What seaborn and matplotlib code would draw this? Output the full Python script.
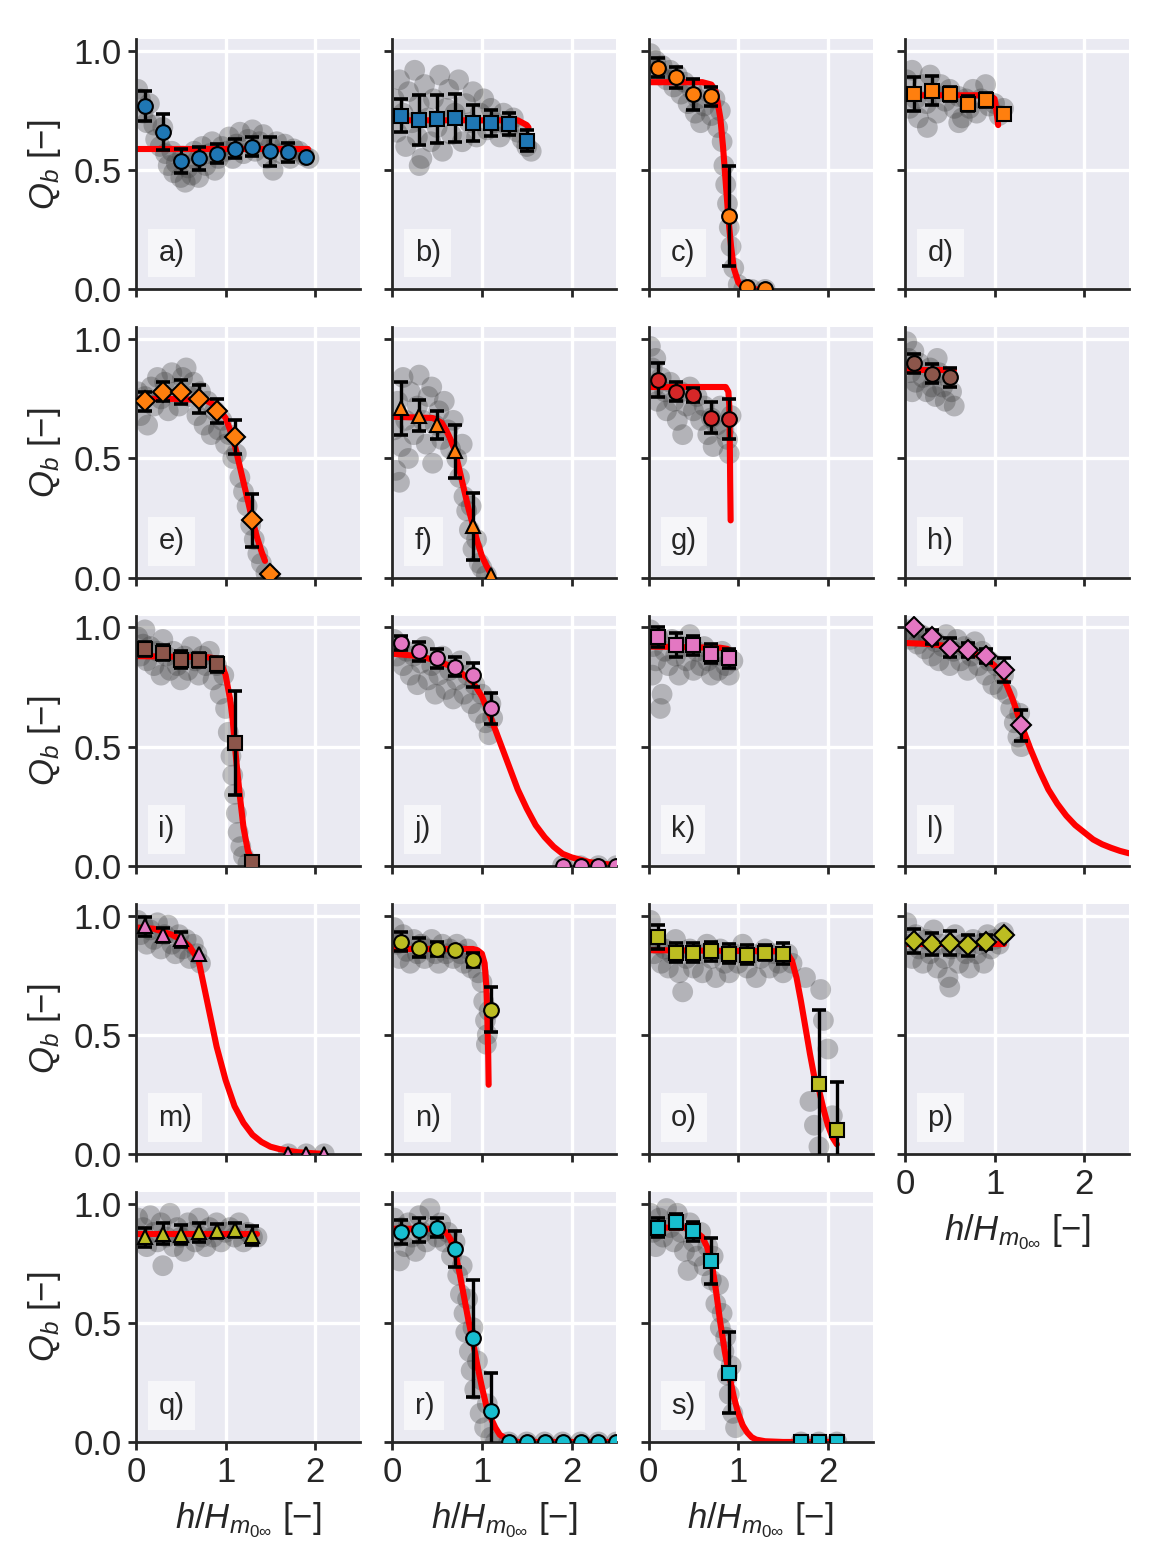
import matplotlib

matplotlib.use("Agg")
import matplotlib.pyplot as plt
import seaborn as sns

sns.set_theme(style="darkgrid")
plt.rcParams["font.family"] = ["Liberation Sans", "DejaVu Sans"]
plt.rcParams["mathtext.fontset"] = "custom"
plt.rcParams["mathtext.rm"] = "Liberation Sans"
plt.rcParams["mathtext.it"] = "Liberation Sans:italic"

PANELS = list("abcdefghijklmnopqrs")

COLOURS = {
    "a": "#1f77b4", "b": "#1f77b4", "c": "#ff7f0e", "d": "#ff7f0e",
    "e": "#ff7f0e", "f": "#ff7f0e", "g": "#d62728", "h": "#8c564b",
    "i": "#8c564b", "j": "#e377c2", "k": "#e377c2", "l": "#e377c2",
    "m": "#e377c2", "n": "#bcbd22", "o": "#bcbd22", "p": "#bcbd22",
    "q": "#bcbd22", "r": "#17becf", "s": "#17becf",
}
MARKERS = {
    "a": "o", "b": "s", "c": "o", "d": "s", "e": "D", "f": "^", "g": "o",
    "h": "o", "i": "s", "j": "o", "k": "s", "l": "D", "m": "^", "n": "o",
    "o": "s", "p": "D", "q": "^", "r": "o", "s": "s",
}

# binned means with standard deviation
BIN_X = {
    "a": [0.1, 0.3, 0.5, 0.7, 0.9, 1.1, 1.3, 1.5, 1.7, 1.9],
    "b": [0.1, 0.3, 0.5, 0.7, 0.9, 1.1, 1.3, 1.5],
    "c": [0.1, 0.3, 0.5, 0.7, 0.9, 1.1, 1.3],
    "d": [0.1, 0.3, 0.5, 0.7, 0.9, 1.1],
    "e": [0.1, 0.3, 0.5, 0.7, 0.9, 1.1, 1.3, 1.5],
    "f": [0.1, 0.3, 0.5, 0.7, 0.9, 1.1],
    "g": [0.1, 0.3, 0.5, 0.7, 0.9],
    "h": [0.1, 0.3, 0.5],
    "i": [0.1, 0.3, 0.5, 0.7, 0.9, 1.1, 1.3],
    "j": [0.1, 0.3, 0.5, 0.7, 0.9, 1.1, 1.9, 2.1, 2.3, 2.5],
    "k": [0.1, 0.3, 0.5, 0.7, 0.9],
    "l": [0.1, 0.3, 0.5, 0.7, 0.9, 1.1, 1.3],
    "m": [0.1, 0.3, 0.5, 0.7, 1.7, 1.9, 2.1],
    "n": [0.1, 0.3, 0.5, 0.7, 0.9, 1.1],
    "o": [0.1, 0.3, 0.5, 0.7, 0.9, 1.1, 1.3, 1.5, 1.9, 2.1],
    "p": [0.1, 0.3, 0.5, 0.7, 0.9, 1.1],
    "q": [0.1, 0.3, 0.5, 0.7, 0.9, 1.1, 1.3],
    "r": [0.1, 0.3, 0.5, 0.7, 0.9, 1.1, 1.3, 1.5, 1.7, 1.9, 2.1, 2.3, 2.5],
    "s": [0.1, 0.3, 0.5, 0.7, 0.9, 1.7, 1.9, 2.1],
}
BIN_Y = {
    "a": [0.77, 0.66, 0.54, 0.55, 0.57, 0.59, 0.60, 0.58, 0.575, 0.555],
    "b": [0.73, 0.71, 0.715, 0.72, 0.70, 0.70, 0.695, 0.625],
    "c": [0.93, 0.89, 0.82, 0.81, 0.31, 0.01, 0.0],
    "d": [0.82, 0.835, 0.82, 0.78, 0.795, 0.735],
    "e": [0.74, 0.78, 0.78, 0.75, 0.70, 0.59, 0.24, 0.015],
    "f": [0.71, 0.68, 0.64, 0.53, 0.215, 0.01],
    "g": [0.83, 0.78, 0.765, 0.67, 0.665],
    "h": [0.90, 0.855, 0.84],
    "i": [0.91, 0.895, 0.865, 0.865, 0.845, 0.515, 0.015],
    "j": [0.935, 0.90, 0.87, 0.835, 0.80, 0.66, 0.0, 0.0, 0.0, 0.0],
    "k": [0.96, 0.925, 0.925, 0.89, 0.87],
    "l": [1.0, 0.96, 0.915, 0.905, 0.88, 0.82, 0.59],
    "m": [0.955, 0.92, 0.90, 0.84, 0.0, 0.0, 0.0],
    "n": [0.89, 0.865, 0.86, 0.855, 0.815, 0.605],
    "o": [0.91, 0.845, 0.845, 0.85, 0.84, 0.835, 0.845, 0.84, 0.295, 0.10],
    "p": [0.895, 0.88, 0.885, 0.875, 0.89, 0.92],
    "q": [0.86, 0.875, 0.87, 0.88, 0.885, 0.89, 0.865],
    "r": [0.88, 0.89, 0.90, 0.81, 0.435, 0.13, 0.0, 0.0, 0.0, 0.0, 0.0, 0.0, 0.0],
    "s": [0.90, 0.925, 0.885, 0.76, 0.29, 0.0, 0.0, 0.0],
}
BIN_ERR = {
    "a": [0.065, 0.075, 0.05, 0.05, 0.04, 0.04, 0.04, 0.06, 0.04, 0.0],
    "b": [0.07, 0.105, 0.10, 0.10, 0.075, 0.055, 0.045, 0.045],
    "c": [0.04, 0.045, 0.065, 0.04, 0.21, 0.0, 0.0],
    "d": [0.07, 0.06, 0.03, 0.03, 0.03, 0.0],
    "e": [0.04, 0.04, 0.05, 0.06, 0.05, 0.07, 0.11, 0.0],
    "f": [0.11, 0.065, 0.06, 0.11, 0.14, 0.0],
    "g": [0.07, 0.04, 0.03, 0.065, 0.085],
    "h": [0.04, 0.04, 0.04],
    "i": [0.03, 0.03, 0.035, 0.03, 0.03, 0.22, 0.0],
    "j": [0.03, 0.04, 0.04, 0.04, 0.05, 0.065, 0.0, 0.0, 0.0, 0.0],
    "k": [0.04, 0.05, 0.04, 0.04, 0.04],
    "l": [0.0, 0.03, 0.04, 0.03, 0.03, 0.05, 0.065],
    "m": [0.04, 0.03, 0.03, 0.0, 0.0, 0.0, 0.0],
    "n": [0.04, 0.04, 0.03, 0.0, 0.03, 0.095],
    "o": [0.05, 0.04, 0.04, 0.04, 0.04, 0.04, 0.03, 0.045, 0.31, 0.2],
    "p": [0.05, 0.045, 0.05, 0.045, 0.03, 0.0],
    "q": [0.04, 0.045, 0.04, 0.04, 0.03, 0.03, 0.04],
    "r": [0.05, 0.05, 0.04, 0.075, 0.245, 0.16, 0.0, 0.0, 0.0, 0.0, 0.0, 0.0, 0.0],
    "s": [0.04, 0.03, 0.04, 0.095, 0.17, 0.0, 0.0, 0.0],
}

# fitted breaking curves
FIT_X = {
    "a": [0.0, 1.92],
    "b": [0.0, 1.0, 1.4, 1.45, 1.5, 1.52],
    "c": [0.0, 0.6, 0.7, 0.75, 0.8, 0.83, 0.86, 0.89, 0.92, 0.95, 1.0, 1.05, 1.1, 1.3],
    "d": [0.0, 0.8, 0.95, 1.0, 1.02, 1.04],
    "e": [0.0, 0.5, 0.7, 0.8, 0.9, 1.0, 1.05, 1.1, 1.15, 1.2, 1.25, 1.3, 1.35, 1.4, 1.44],
    "f": [0.0, 0.45, 0.55, 0.6, 0.65, 0.7, 0.75, 0.8, 0.85, 0.9, 0.95, 1.0, 1.05, 1.1],
    "g": [0.0, 0.8, 0.86, 0.89, 0.9, 0.905, 0.91, 0.915],
    "h": [0.0, 0.55],
    "i": [0.0, 0.8, 0.9, 0.95, 1.0, 1.05, 1.08, 1.1, 1.13, 1.16, 1.2, 1.25, 1.3],
    "j": [0.0, 0.3, 0.5, 0.7, 0.9, 1.0, 1.1, 1.2, 1.3, 1.4, 1.5, 1.6, 1.7, 1.8, 1.9,
          2.0, 2.2, 2.4, 2.5],
    "k": [0.0, 0.8, 0.88, 0.92, 0.95],
    "l": [0.0, 0.3, 0.5, 0.7, 0.9, 1.0, 1.1, 1.2, 1.3, 1.4, 1.5, 1.6, 1.7, 1.8, 1.9,
          2.0, 2.1, 2.2, 2.3, 2.4, 2.5],
    "m": [0.0, 0.2, 0.4, 0.5, 0.6, 0.7, 0.8, 0.9, 1.0, 1.1, 1.2, 1.3, 1.4, 1.5, 1.6,
          1.8, 2.0, 2.1],
    "n": [0.0, 0.9, 0.95, 1.0, 1.03, 1.05, 1.06, 1.07, 1.075],
    "o": [0.0, 1.5, 1.55, 1.6, 1.65, 1.7, 1.75, 1.8, 1.85, 1.9, 1.95, 2.0, 2.05, 2.1],
    "p": [0.0, 1.1],
    "q": [0.0, 1.35],
    "r": [0.0, 0.5, 0.6, 0.65, 0.7, 0.75, 0.8, 0.85, 0.9, 0.95, 1.0, 1.05, 1.1, 1.15,
          1.2, 1.3, 1.4, 2.5],
    "s": [0.0, 0.4, 0.5, 0.6, 0.65, 0.7, 0.75, 0.8, 0.85, 0.9, 0.95, 1.0, 1.05, 1.1,
          1.15, 1.2, 1.3, 1.5, 2.15],
}
FIT_Y = {
    "a": [0.59, 0.59],
    "b": [0.71, 0.71, 0.71, 0.70, 0.69, 0.68],
    "c": [0.87, 0.87, 0.86, 0.83, 0.72, 0.60, 0.45, 0.30, 0.18, 0.09, 0.03, 0.01, 0.0, 0.0],
    "d": [0.815, 0.815, 0.815, 0.80, 0.75, 0.69],
    "e": [0.75, 0.75, 0.745, 0.74, 0.72, 0.67, 0.62, 0.56, 0.48, 0.40, 0.32, 0.24, 0.17,
          0.11, 0.07],
    "f": [0.675, 0.67, 0.65, 0.62, 0.58, 0.53, 0.45, 0.37, 0.29, 0.22, 0.15, 0.09, 0.05,
          0.015],
    "g": [0.80, 0.80, 0.80, 0.78, 0.72, 0.60, 0.40, 0.24],
    "h": [0.87, 0.87],
    "i": [0.88, 0.875, 0.87, 0.85, 0.80, 0.70, 0.61, 0.52, 0.40, 0.29, 0.16, 0.06, 0.02],
    "j": [0.89, 0.88, 0.86, 0.83, 0.77, 0.71, 0.62, 0.52, 0.42, 0.32, 0.24, 0.17, 0.12,
          0.08, 0.05, 0.035, 0.015, 0.006, 0.003],
    "k": [0.92, 0.915, 0.91, 0.90, 0.86],
    "l": [0.935, 0.93, 0.92, 0.90, 0.87, 0.84, 0.79, 0.70, 0.59, 0.49, 0.40, 0.32, 0.26,
          0.21, 0.17, 0.14, 0.11, 0.09, 0.075, 0.062, 0.052],
    "m": [0.95, 0.945, 0.92, 0.90, 0.87, 0.81, 0.63, 0.45, 0.31, 0.20, 0.13, 0.08, 0.05,
          0.03, 0.02, 0.007, 0.002, 0.0],
    "n": [0.86, 0.86, 0.855, 0.84, 0.80, 0.70, 0.58, 0.42, 0.29],
    "o": [0.855, 0.85, 0.84, 0.81, 0.74, 0.64, 0.53, 0.42, 0.32, 0.27, 0.19, 0.12, 0.07,
          0.04],
    "p": [0.88, 0.88],
    "q": [0.875, 0.875],
    "r": [0.895, 0.895, 0.88, 0.85, 0.80, 0.71, 0.61, 0.51, 0.42, 0.32, 0.23, 0.15, 0.10,
          0.06, 0.03, 0.008, 0.0, 0.0],
    "s": [0.90, 0.90, 0.89, 0.86, 0.82, 0.76, 0.64, 0.50, 0.38, 0.28, 0.19, 0.12, 0.07,
          0.04, 0.02, 0.01, 0.003, 0.0, 0.0],
}

# individual observations (grey cloud), (h/Hm0, Qb)
CLOUD = {
    "a": [(0.02, 0.84), (0.05, 0.80), (0.08, 0.74), (0.12, 0.70), (0.15, 0.78), (0.2, 0.69),
          (0.22, 0.63), (0.27, 0.60), (0.3, 0.68), (0.33, 0.57), (0.36, 0.52), (0.4, 0.58),
          (0.42, 0.49), (0.45, 0.53), (0.5, 0.47), (0.52, 0.56), (0.55, 0.45), (0.58, 0.51),
          (0.62, 0.48), (0.65, 0.58), (0.68, 0.54), (0.7, 0.47), (0.74, 0.60), (0.78, 0.52),
          (0.82, 0.57), (0.85, 0.62), (0.88, 0.50), (0.92, 0.55), (0.96, 0.60), (1.0, 0.58),
          (1.04, 0.64), (1.08, 0.55), (1.12, 0.61), (1.16, 0.66), (1.2, 0.57), (1.25, 0.63),
          (1.3, 0.67), (1.33, 0.58), (1.38, 0.62), (1.42, 0.65), (1.46, 0.55), (1.5, 0.60),
          (1.53, 0.50), (1.57, 0.62), (1.62, 0.57), (1.66, 0.61), (1.72, 0.55), (1.76, 0.59),
          (1.82, 0.58), (1.88, 0.56), (1.93, 0.55)],
    "b": [(0.02, 0.80), (0.05, 0.66), (0.08, 0.88), (0.12, 0.74), (0.15, 0.60), (0.18, 0.83),
          (0.22, 0.70), (0.25, 0.92), (0.28, 0.64), (0.3, 0.78), (0.33, 0.55), (0.36, 0.86),
          (0.4, 0.72), (0.43, 0.62), (0.46, 0.80), (0.5, 0.68), (0.53, 0.90), (0.56, 0.58),
          (0.6, 0.76), (0.63, 0.84), (0.66, 0.65), (0.7, 0.74), (0.74, 0.88), (0.78, 0.62),
          (0.82, 0.78), (0.86, 0.70), (0.9, 0.83), (0.94, 0.64), (0.98, 0.74), (1.02, 0.80),
          (1.06, 0.67), (1.1, 0.76), (1.15, 0.70), (1.2, 0.64), (1.24, 0.74), (1.3, 0.68),
          (1.35, 0.72), (1.4, 0.66), (1.45, 0.63), (1.5, 0.60), (1.55, 0.58), (0.3, 0.52)],
    "c": [(0.02, 0.99), (0.05, 0.93), (0.08, 0.96), (0.12, 0.90), (0.15, 0.94), (0.2, 0.88),
          (0.24, 0.92), (0.28, 0.85), (0.32, 0.90), (0.36, 0.82), (0.4, 0.87), (0.44, 0.78),
          (0.48, 0.84), (0.52, 0.74), (0.55, 0.80), (0.58, 0.70), (0.62, 0.77), (0.66, 0.83),
          (0.7, 0.73), (0.74, 0.80), (0.77, 0.68), (0.8, 0.75), (0.82, 0.62), (0.84, 0.52),
          (0.86, 0.44), (0.88, 0.36), (0.9, 0.26), (0.92, 0.18), (0.95, 0.09), (1.0, 0.02),
          (1.06, 0.0), (1.15, 0.0), (1.3, 0.0)],
    "d": [(0.02, 0.88), (0.05, 0.76), (0.08, 0.92), (0.12, 0.80), (0.15, 0.72), (0.2, 0.86),
          (0.24, 0.78), (0.28, 0.90), (0.32, 0.82), (0.36, 0.74), (0.4, 0.86), (0.45, 0.79),
          (0.5, 0.84), (0.55, 0.76), (0.6, 0.81), (0.64, 0.72), (0.68, 0.80), (0.72, 0.76),
          (0.76, 0.84), (0.8, 0.74), (0.85, 0.80), (0.9, 0.86), (0.94, 0.77), (1.0, 0.78),
          (1.05, 0.73), (1.1, 0.76), (0.25, 0.68), (0.6, 0.70)],
    "e": [(0.02, 0.78), (0.05, 0.68), (0.1, 0.76), (0.13, 0.64), (0.17, 0.80), (0.2, 0.72),
          (0.24, 0.84), (0.28, 0.75), (0.32, 0.82), (0.36, 0.70), (0.4, 0.86), (0.44, 0.78),
          (0.48, 0.72), (0.52, 0.84), (0.56, 0.88), (0.6, 0.76), (0.64, 0.82), (0.68, 0.68),
          (0.72, 0.78), (0.76, 0.64), (0.8, 0.74), (0.84, 0.60), (0.88, 0.70), (0.92, 0.62),
          (0.96, 0.66), (1.0, 0.56), (1.04, 0.60), (1.08, 0.50), (1.12, 0.52), (1.16, 0.42),
          (1.2, 0.36), (1.24, 0.30), (1.28, 0.22), (1.32, 0.16), (1.36, 0.10), (1.4, 0.06),
          (1.45, 0.02), (1.5, 0.0)],
    "f": [(0.02, 0.62), (0.04, 0.45), (0.06, 0.74), (0.1, 0.55), (0.12, 0.84), (0.15, 0.66),
          (0.18, 0.50), (0.2, 0.78), (0.24, 0.60), (0.28, 0.72), (0.3, 0.85), (0.34, 0.66),
          (0.38, 0.56), (0.4, 0.76), (0.44, 0.80), (0.48, 0.64), (0.52, 0.70), (0.55, 0.58),
          (0.58, 0.74), (0.62, 0.62), (0.65, 0.54), (0.68, 0.66), (0.72, 0.50), (0.75, 0.42),
          (0.78, 0.56), (0.8, 0.34), (0.83, 0.28), (0.86, 0.20), (0.88, 0.30), (0.9, 0.12),
          (0.94, 0.16), (0.97, 0.06), (1.0, 0.04), (1.05, 0.01), (0.45, 0.48), (0.08, 0.40)],
    "g": [(0.02, 0.97), (0.04, 0.88), (0.06, 0.80), (0.08, 0.92), (0.1, 0.74), (0.14, 0.84),
          (0.18, 0.78), (0.2, 0.70), (0.24, 0.82), (0.28, 0.74), (0.32, 0.66), (0.36, 0.78),
          (0.38, 0.60), (0.42, 0.72), (0.46, 0.80), (0.5, 0.70), (0.54, 0.76), (0.58, 0.66),
          (0.62, 0.72), (0.66, 0.60), (0.7, 0.67), (0.72, 0.55), (0.76, 0.64), (0.8, 0.72),
          (0.84, 0.62), (0.88, 0.58), (0.9, 0.52), (0.92, 0.68)],
    "h": [(0.02, 0.99), (0.04, 0.92), (0.06, 0.86), (0.1, 0.95), (0.12, 0.82), (0.16, 0.90),
          (0.2, 0.84), (0.24, 0.78), (0.28, 0.88), (0.3, 0.80), (0.34, 0.76), (0.38, 0.86),
          (0.42, 0.80), (0.45, 0.74), (0.48, 0.84), (0.52, 0.78), (0.55, 0.72), (0.08, 0.78),
          (0.36, 0.92)],
    "i": [(0.02, 0.96), (0.05, 0.88), (0.08, 0.93), (0.12, 0.86), (0.16, 0.92), (0.2, 0.84),
          (0.24, 0.90), (0.28, 0.80), (0.3, 0.95), (0.34, 0.88), (0.38, 0.82), (0.42, 0.90),
          (0.46, 0.84), (0.5, 0.78), (0.54, 0.88), (0.58, 0.82), (0.62, 0.92), (0.66, 0.86),
          (0.7, 0.80), (0.74, 0.88), (0.78, 0.84), (0.82, 0.90), (0.86, 0.78), (0.9, 0.84),
          (0.94, 0.72), (0.98, 0.80), (1.0, 0.66), (1.03, 0.56), (1.06, 0.46), (1.08, 0.38),
          (1.1, 0.30), (1.12, 0.22), (1.14, 0.14), (1.17, 0.08), (1.2, 0.04), (1.25, 0.01),
          (0.1, 0.99)],
    "j": [(0.02, 0.95), (0.05, 0.88), (0.08, 0.92), (0.12, 0.84), (0.16, 0.90), (0.2, 0.80),
          (0.24, 0.88), (0.28, 0.76), (0.32, 0.85), (0.36, 0.92), (0.4, 0.78), (0.44, 0.84),
          (0.48, 0.72), (0.52, 0.80), (0.56, 0.88), (0.6, 0.74), (0.64, 0.82), (0.68, 0.70),
          (0.72, 0.78), (0.76, 0.86), (0.8, 0.72), (0.84, 0.80), (0.88, 0.68), (0.92, 0.76),
          (0.96, 0.64), (1.0, 0.72), (1.04, 0.60), (1.08, 0.55), (1.1, 0.68), (1.12, 0.62),
          (1.9, 0.0), (2.1, 0.0), (2.3, 0.0), (2.5, 0.0)],
    "k": [(0.02, 0.99), (0.05, 0.92), (0.08, 0.86), (0.1, 0.96), (0.13, 0.66), (0.15, 0.72),
          (0.18, 0.90), (0.22, 0.84), (0.26, 0.95), (0.3, 0.88), (0.34, 0.80), (0.38, 0.92),
          (0.42, 0.86), (0.46, 0.97), (0.5, 0.82), (0.54, 0.90), (0.58, 0.84), (0.62, 0.92),
          (0.66, 0.86), (0.7, 0.80), (0.74, 0.88), (0.78, 0.82), (0.82, 0.90), (0.86, 0.84),
          (0.9, 0.80), (0.94, 0.86), (0.04, 0.80)],
    "l": [(0.02, 0.99), (0.06, 0.95), (0.1, 0.98), (0.14, 0.93), (0.18, 0.97), (0.22, 0.91),
          (0.26, 0.96), (0.3, 0.88), (0.34, 0.94), (0.38, 0.86), (0.42, 0.92), (0.46, 0.97),
          (0.5, 0.84), (0.54, 0.90), (0.58, 0.95), (0.62, 0.86), (0.66, 0.92), (0.7, 0.82),
          (0.74, 0.88), (0.78, 0.94), (0.82, 0.84), (0.86, 0.90), (0.9, 0.80), (0.94, 0.86),
          (0.98, 0.76), (1.02, 0.84), (1.06, 0.74), (1.1, 0.80), (1.14, 0.72), (1.18, 0.66),
          (1.22, 0.60), (1.26, 0.54), (1.3, 0.50), (1.28, 0.64)],
    "m": [(0.02, 0.98), (0.05, 0.92), (0.08, 0.96), (0.12, 0.88), (0.16, 0.94), (0.2, 0.90),
          (0.24, 0.97), (0.28, 0.86), (0.32, 0.92), (0.36, 0.96), (0.4, 0.88), (0.44, 0.84),
          (0.48, 0.92), (0.52, 0.86), (0.56, 0.90), (0.6, 0.82), (0.64, 0.88), (0.68, 0.84),
          (0.72, 0.80), (1.7, 0.0), (1.9, 0.0), (2.1, 0.0)],
    "n": [(0.02, 0.95), (0.05, 0.88), (0.08, 0.82), (0.12, 0.92), (0.16, 0.85), (0.2, 0.80),
          (0.24, 0.90), (0.28, 0.84), (0.32, 0.88), (0.36, 0.82), (0.4, 0.86), (0.44, 0.90),
          (0.48, 0.84), (0.52, 0.80), (0.56, 0.88), (0.6, 0.84), (0.64, 0.86), (0.68, 0.82),
          (0.72, 0.88), (0.76, 0.84), (0.8, 0.80), (0.84, 0.86), (0.88, 0.78), (0.92, 0.82),
          (0.96, 0.76), (1.0, 0.72), (1.02, 0.64), (1.04, 0.56), (1.06, 0.50), (1.05, 0.46),
          (1.08, 0.60)],
    "o": [(0.02, 0.98), (0.04, 0.90), (0.06, 0.84), (0.1, 0.88), (0.14, 0.80), (0.18, 0.86),
          (0.22, 0.78), (0.26, 0.84), (0.3, 0.90), (0.34, 0.76), (0.38, 0.68), (0.42, 0.82),
          (0.46, 0.86), (0.5, 0.78), (0.55, 0.84), (0.6, 0.76), (0.65, 0.88), (0.7, 0.82),
          (0.75, 0.74), (0.8, 0.86), (0.85, 0.80), (0.9, 0.76), (0.95, 0.84), (1.0, 0.80),
          (1.05, 0.88), (1.1, 0.78), (1.15, 0.84), (1.2, 0.74), (1.25, 0.82), (1.3, 0.86),
          (1.35, 0.78), (1.4, 0.84), (1.45, 0.80), (1.5, 0.76), (1.55, 0.84), (1.6, 0.80),
          (1.75, 0.74), (1.92, 0.69), (1.95, 0.56), (2.0, 0.44), (1.8, 0.22), (1.85, 0.12),
          (1.9, 0.03), (2.05, 0.16)],
    "p": [(0.02, 0.97), (0.05, 0.88), (0.08, 0.82), (0.12, 0.92), (0.16, 0.86), (0.2, 0.80),
          (0.24, 0.90), (0.28, 0.84), (0.32, 0.94), (0.36, 0.78), (0.4, 0.88), (0.44, 0.82),
          (0.48, 0.74), (0.52, 0.86), (0.56, 0.92), (0.6, 0.80), (0.64, 0.88), (0.68, 0.84),
          (0.72, 0.78), (0.76, 0.90), (0.8, 0.84), (0.84, 0.88), (0.88, 0.80), (0.92, 0.92),
          (0.96, 0.86), (1.0, 0.90), (1.05, 0.88), (1.1, 0.93), (0.5, 0.70)],
    "q": [(0.02, 0.94), (0.05, 0.86), (0.08, 0.90), (0.12, 0.82), (0.16, 0.95), (0.2, 0.88),
          (0.24, 0.84), (0.28, 0.92), (0.3, 0.74), (0.34, 0.86), (0.38, 0.96), (0.42, 0.82),
          (0.46, 0.90), (0.5, 0.86), (0.54, 0.80), (0.58, 0.92), (0.62, 0.88), (0.66, 0.84),
          (0.7, 0.94), (0.74, 0.86), (0.78, 0.82), (0.82, 0.90), (0.86, 0.86), (0.9, 0.92),
          (0.95, 0.84), (1.0, 0.88), (1.05, 0.90), (1.1, 0.86), (1.15, 0.92), (1.2, 0.84),
          (1.25, 0.88), (1.3, 0.86), (1.35, 0.86)],
    "r": [(0.02, 0.94), (0.05, 0.86), (0.08, 0.76), (0.1, 0.90), (0.14, 0.82), (0.18, 0.92),
          (0.22, 0.86), (0.26, 0.80), (0.3, 0.95), (0.34, 0.88), (0.38, 0.84), (0.42, 0.98),
          (0.46, 0.90), (0.5, 0.86), (0.54, 0.92), (0.58, 0.84), (0.62, 0.88), (0.66, 0.78),
          (0.7, 0.84), (0.73, 0.70), (0.76, 0.62), (0.78, 0.74), (0.8, 0.54), (0.82, 0.46),
          (0.84, 0.60), (0.86, 0.38), (0.88, 0.30), (0.9, 0.48), (0.92, 0.22), (0.95, 0.34),
          (0.98, 0.12), (1.0, 0.26), (1.03, 0.06), (1.06, 0.16), (1.1, 0.02), (1.15, 0.0),
          (1.3, 0.0), (1.5, 0.0), (1.7, 0.0), (1.9, 0.0), (2.1, 0.0), (2.3, 0.0), (2.5, 0.0)],
    "s": [(0.02, 0.96), (0.05, 0.88), (0.08, 0.82), (0.12, 0.94), (0.16, 0.86), (0.2, 0.98),
          (0.24, 0.90), (0.28, 0.84), (0.32, 0.96), (0.36, 0.88), (0.4, 0.80), (0.44, 0.72),
          (0.46, 0.92), (0.5, 0.84), (0.54, 0.78), (0.58, 0.88), (0.62, 0.74), (0.66, 0.82),
          (0.7, 0.68), (0.72, 0.78), (0.75, 0.58), (0.78, 0.66), (0.8, 0.48), (0.82, 0.54),
          (0.84, 0.38), (0.86, 0.44), (0.88, 0.28), (0.9, 0.20), (0.92, 0.32), (0.94, 0.12),
          (0.97, 0.06), (1.7, 0.0), (1.9, 0.0), (2.1, 0.0)],
}

XLABEL = r"$h/H_{m_{0\infty}}$" + " [\u2212]"
YLABEL = r"$Q_b$" + " [\u2212]"


def _draw_panel(axis, letter):
    cloud_x = [pt[0] for pt in CLOUD[letter]]
    cloud_y = [pt[1] for pt in CLOUD[letter]]
    sns.scatterplot(x=cloud_x, y=cloud_y, color="0.25", alpha=0.32, s=56,
                    edgecolor="none", ax=axis, zorder=1, legend=False)
    axis.plot(FIT_X[letter], FIT_Y[letter], color="red", lw=2.2, zorder=2)
    # error bars only where a spread was drawn
    err_idx = [i for i, err in enumerate(BIN_ERR[letter]) if err > 0]
    axis.errorbar([BIN_X[letter][i] for i in err_idx],
                  [BIN_Y[letter][i] for i in err_idx],
                  yerr=[BIN_ERR[letter][i] for i in err_idx],
                  fmt="none", ecolor="black", elinewidth=1.2, capsize=2.6,
                  capthick=1.3, zorder=3)
    axis.plot(BIN_X[letter], BIN_Y[letter], linestyle="none",
              marker=MARKERS[letter], markersize=5.3, markerfacecolor=COLOURS[letter],
              markeredgecolor="black", markeredgewidth=0.75, zorder=4)
    axis.text(0.1, 0.145, letter + ")", transform=axis.transAxes, fontsize=10.5,
              ha="left", va="center", color="0.15", zorder=5,
              bbox=dict(boxstyle="square,pad=0.35", facecolor="white", alpha=0.6,
                        edgecolor="none"))


fig, axes = plt.subplots(5, 4, figsize=(5.845, 7.83), dpi=200)
fig.subplots_adjust(left=0.1163, right=0.9658, bottom=0.0792, top=0.9749,
                    wspace=0.144, hspace=0.152)

for index, axis in enumerate(axes.flat):
    if index >= len(PANELS):
        axis.remove()
        continue
    letter = PANELS[index]
    row, col = divmod(index, 4)
    _draw_panel(axis, letter)
    axis.set_xlim(0, 2.5)
    axis.set_ylim(0, 1.05)
    axis.set_xticks([0, 1, 2])
    axis.set_yticks([0.0, 0.5, 1.0])
    axis.grid(True, color="white", linewidth=1.2)
    for side in ("top", "right"):
        axis.spines[side].set_visible(False)
    for side in ("left", "bottom"):
        axis.spines[side].set_visible(True)
        axis.spines[side].set_color("0.15")
        axis.spines[side].set_linewidth(1.0)
    show_x = row == 4 or letter == "p"
    show_y = col == 0
    axis.tick_params(axis="both", which="major", direction="out", length=3,
                     width=1.0, color="0.15", labelsize=12.5, labelcolor="0.15",
                     bottom=True, left=True, pad=2)
    axis.tick_params(axis="x", labelbottom=show_x)
    axis.tick_params(axis="y", labelleft=show_y)
    axis.set_xticklabels(["0", "1", "2"])
    axis.set_yticklabels(["0.0", "0.5", "1.0"])
    if show_x:
        axis.set_xlabel(XLABEL, fontsize=12.5, color="0.15")
    if show_y:
        axis.set_ylabel(YLABEL, fontsize=12.5, color="0.15")

fig.savefig("out.png", dpi=200)
plt.close(fig)
